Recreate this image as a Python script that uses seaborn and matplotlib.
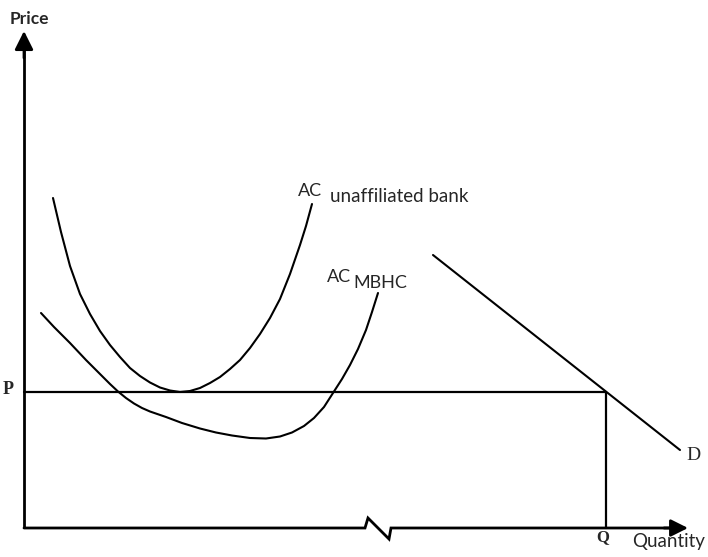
import seaborn as sns
import pandas as pd
import matplotlib.pyplot as plt
import numpy as np

# --- curve readings (quantity, price) measured off the diagram ---
unaff_q = [29, 37, 46, 56, 66, 76, 86, 96, 106, 116, 126, 136, 146, 156,
           166, 176, 186, 196, 206, 216, 226, 236, 246, 256, 266, 276, 282, 288]
unaff_p = [330, 296, 262, 234, 214, 197, 183, 171, 160, 152, 145.5, 140.5, 137.5, 136,
           137, 140, 145, 151, 159, 168, 180, 194, 210, 229, 254, 283, 302, 324]

mbhc_q = [17, 30, 46, 62, 78, 86, 94, 102, 110, 118, 126, 142, 158, 176, 192, 208, 226,
          242, 256, 268, 280, 290, 300, 309, 318, 326, 334, 342, 348, 354]
mbhc_p = [215, 201, 185, 168, 152, 144, 136.5, 130, 124.5, 120, 116.5, 111, 105, 99.5, 95.5,
          92.5, 90, 89.5, 91.5, 95.5, 102, 110, 121, 135, 149, 163, 179, 198, 216, 235]

demand_q = [409, 656]
demand_p = [273, 78]

price_P = 136
quantity_Q = 582

# x axis with the break mark
xaxis_q = [0, 341, 344, 365, 367, 650]
xaxis_p = [0, 0, 10, -11, 0, 0]

curves = pd.concat([
    pd.DataFrame({'q': unaff_q, 'p': unaff_p, 'curve': 'unaffiliated'}),
    pd.DataFrame({'q': mbhc_q, 'p': mbhc_p, 'curve': 'MBHC'}),
    pd.DataFrame({'q': demand_q, 'p': demand_p, 'curve': 'D'}),
])

sns.set_theme(style='white')
fig = plt.figure(figsize=(7.08, 5.57), dpi=100)
ax = fig.add_axes([0, 0, 1, 1])
ax.set_xlim(-24, 684)
ax.set_ylim(-29, 528)
ax.axis('off')

sns.lineplot(data=curves, x='q', y='p', units='curve', estimator=None, sort=False,
             color='black', lw=1.5, ax=ax)

# axes
ax.plot([0, 0], [0, 485], color='black', lw=2, solid_capstyle='butt')
ax.plot(xaxis_q, xaxis_p, color='black', lw=2, solid_joinstyle='miter')
ax.annotate('', xy=(0, 497), xytext=(0, 470),
            arrowprops=dict(arrowstyle='-|>', mutation_scale=28, lw=2,
                            color='black', shrinkA=0, shrinkB=0))
ax.annotate('', xy=(664, 0), xytext=(640, 0),
            arrowprops=dict(arrowstyle='-|>', mutation_scale=26, lw=2,
                            color='black', shrinkA=0, shrinkB=0))

# price and quantity guides
ax.plot([0, quantity_Q], [price_P, price_P], color='black', lw=1.6)
ax.plot([quantity_Q, quantity_Q], [0, price_P], color='black', lw=1.6)

sans = ['Lato', 'DejaVu Sans']
serif = ['Liberation Serif', 'DejaVu Serif']
ax.text(-14, 509, 'Price', fontsize=12.5, family=sans, fontweight='bold', va='center', ha='left')
ax.text(608, -13, 'Quantity', fontsize=13.5, family=sans, va='center', ha='left')
ax.text(-16, 138, 'P', fontsize=13, family=serif, fontweight='bold', va='center', ha='center')
ax.text(579, -9, 'Q', fontsize=12, family=serif, fontweight='bold', va='center', ha='center')
ax.text(669, 73, 'D', fontsize=14, family=serif, va='center', ha='center')

ax.text(274, 337, 'AC', fontsize=13, family=sans, va='center', ha='left')
ax.text(306, 332, 'unaffiliated bank', fontsize=13.5, family=sans, va='center', ha='left')
ax.text(303, 251, 'AC', fontsize=13, family=sans, va='center', ha='left')
ax.text(329, 245, 'MBHC', fontsize=13, family=sans, va='center', ha='left')

plt.savefig('out.png', dpi=100)
